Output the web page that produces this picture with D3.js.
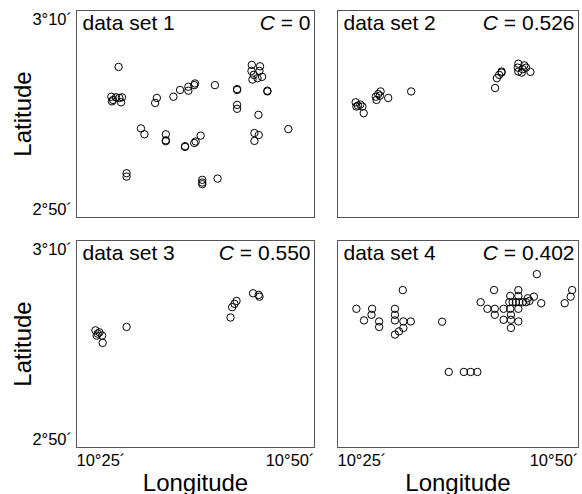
<!DOCTYPE html>
<html>
<head>
<meta charset="utf-8">
<script src="https://cdn.jsdelivr.net/npm/d3@7"></script>
<style>
  html, body { margin: 0; padding: 0; background: #fff; }
  svg { display: block; font-family: "Liberation Sans", Arial, Helvetica, sans-serif; }
</style>
</head>
<body>
<svg id="chart" width="582" height="494"></svg>
<script>
// Positions in arc-minutes: longitude minutes east of 10°E, latitude minutes north of 2°N.
const set1Lon = [29.42, 28.66, 28.84, 29.15, 29.50, 29.78, 29.68, 28.73, 33.44, 33.26, 35.18, 35.88, 36.75, 36.75, 37.45, 37.37, 39.54, 41.87, 41.87, 41.87, 41.87, 43.41, 44.28, 43.38, 44.22, 43.48, 44.01, 44.49, 43.62, 45.05, 45.05, 44.11, 31.77, 32.14, 34.38, 34.38, 34.38, 38.04, 37.52, 37.37, 36.40, 36.40, 43.69, 44.14, 43.69, 47.25, 30.26, 30.26, 38.21, 38.21, 38.21, 39.82];
const set1Lat = [64.55, 61.67, 61.36, 61.61, 61.55, 61.61, 61.13, 61.22, 61.55, 61.07, 61.67, 62.32, 62.63, 62.25, 62.95, 62.79, 62.79, 62.41, 62.32, 60.88, 60.50, 64.74, 64.61, 64.16, 64.16, 63.33, 63.46, 63.59, 63.78, 62.18, 62.25, 59.92, 58.61, 58.04, 58.04, 57.46, 57.37, 57.91, 57.34, 57.20, 56.82, 56.89, 58.16, 57.97, 57.40, 58.54, 54.28, 53.95, 53.64, 53.38, 53.22, 53.76];

const set2Lon = [26.88, 27.12, 27.37, 27.58, 26.96, 27.72, 28.97, 29.22, 29.47, 29.05, 29.39, 30.26, 32.64, 41.35, 41.53, 41.77, 42.02, 42.02, 43.76, 43.69, 43.76, 44.11, 44.38, 44.56, 45.01, 44.21];
const set2Lat = [61.13, 60.81, 60.91, 60.72, 60.72, 60.08, 61.67, 61.93, 62.18, 61.36, 61.77, 61.55, 62.18, 62.51, 63.46, 63.78, 64.10, 64.00, 64.86, 64.48, 64.10, 64.00, 64.70, 64.48, 64.07, 64.33];

const set3Lon = [26.99, 27.23, 27.41, 27.69, 27.12, 27.75, 30.26, 41.18, 41.35, 41.60, 41.81, 43.55, 44.14, 44.22];
const set3Lat = [61.32, 61.00, 61.13, 60.81, 60.81, 60.11, 61.65, 62.56, 63.56, 63.88, 64.16, 64.90, 64.74, 64.57];

const set4Lon = [26.96, 28.59, 28.53, 27.75, 29.32, 29.32, 31.77, 30.96, 30.96, 30.96, 31.83, 32.60, 31.83, 31.38, 30.96, 35.85, 36.54, 38.11, 38.81, 39.51, 41.24, 39.85, 40.55, 41.32, 42.23, 41.32, 42.23, 42.99, 42.99, 42.99, 43.76, 43.76, 42.92, 42.82, 43.17, 43.51, 43.86, 44.21, 44.56, 44.91, 42.92, 43.76, 43.76, 44.74, 45.37, 46.13, 45.68, 48.57, 49.19, 49.34];
const set4Lat = [63.40, 63.40, 62.82, 62.28, 62.18, 61.65, 65.21, 63.40, 62.82, 62.28, 62.18, 62.18, 61.55, 61.22, 60.91, 62.15, 57.30, 57.30, 57.30, 57.30, 65.21, 64.04, 63.40, 63.40, 63.40, 62.82, 62.34, 62.82, 62.34, 61.55, 62.18, 63.40, 63.40, 64.04, 64.04, 64.04, 64.04, 64.04, 64.04, 64.16, 64.64, 65.21, 64.64, 64.42, 64.57, 63.94, 66.75, 63.94, 64.57, 65.21];

const panelNames = ["data set 1", "data set 2", "data set 3", "data set 4"];
const cValues = ["0", "0.526", "0.550", "0.402"];
const lonTicks = [25, 50];   // 10°25´, 10°50´
const latTicks = [50, 70];   // 2°50´, 3°10´
const lonDomain = [25, 50];
const latDomain = [50, 70];

const panelLon = [set1Lon, set2Lon, set3Lon, set4Lon];
const panelLat = [set1Lat, set2Lat, set3Lat, set4Lat];

const svg = d3.select("#chart");

// Frame geometry for the 2×2 grid
const colX = [76.5, 337.5];
const colW = [238, 241];
const rowY = [10.5, 240.5];
const ph = 207;

const fmtLon = m => `10°${m}´`;
const fmtLat = m => `${Math.floor(m / 60) + 2}°${String(m % 60).padStart(2, "0")}´`;

panelNames.forEach((name, i) => {
  const col = i % 2, row = Math.floor(i / 2);
  const pw = colW[col];
  const g = svg.append("g").attr("transform", `translate(${colX[col]},${rowY[row]})`);
  const x = d3.scaleLinear().domain(lonDomain).range([0, pw]);
  const y = d3.scaleLinear().domain(latDomain).range([ph, 0]);

  g.append("rect")
    .attr("x", 0).attr("y", 0)
    .attr("width", pw).attr("height", ph)
    .attr("fill", "none").attr("stroke", "#555").attr("stroke-width", 1);

  const pts = d3.zip(panelLon[i], panelLat[i]);
  g.selectAll("circle.pt").data(pts).join("circle")
    .attr("class", "pt")
    .attr("cx", d => x(d[0])).attr("cy", d => y(d[1]))
    .attr("r", 3.7)
    .attr("fill", "none").attr("stroke", "#000").attr("stroke-width", 1);

  g.append("text")
    .attr("x", 6).attr("y", 19.5)
    .attr("font-size", 21).attr("fill", "#000")
    .text(name);

  const ct = g.append("text")
    .attr("x", pw - 4).attr("y", 19.5)
    .attr("font-size", 21).attr("fill", "#000")
    .attr("text-anchor", "end");
  ct.append("tspan").attr("font-style", "italic").text("C");
  ct.append("tspan").text(" = " + cValues[i]);

  if (col === 0) {
    g.selectAll("text.yt").data(latTicks).join("text")
      .attr("class", "yt")
      .attr("x", -4.5)
      .attr("y", d => d === latDomain[1] ? y(d) + 14 : y(d) - 2.5)
      .attr("text-anchor", "end")
      .attr("font-size", 16.5).attr("fill", "#000")
      .text(fmtLat);
    g.append("text")
      .attr("transform", `translate(-45.5,${ph / 2}) rotate(-90)`)
      .attr("text-anchor", "middle")
      .attr("font-size", 24).attr("fill", "#000")
      .text("Latitude");
  }
  if (row === 1) {
    g.selectAll("text.xt").data(lonTicks).join("text")
      .attr("class", "xt")
      .attr("x", d => x(d))
      .attr("y", ph + 18)
      .attr("text-anchor", d => d === lonDomain[0] ? "start" : "end")
      .attr("font-size", 16.5).attr("fill", "#000")
      .text(fmtLon);
    g.append("text")
      .attr("x", pw / 2).attr("y", ph + 43)
      .attr("text-anchor", "middle")
      .attr("font-size", 24).attr("fill", "#000")
      .text("Longitude");
  }
});
</script>
</body>
</html>
